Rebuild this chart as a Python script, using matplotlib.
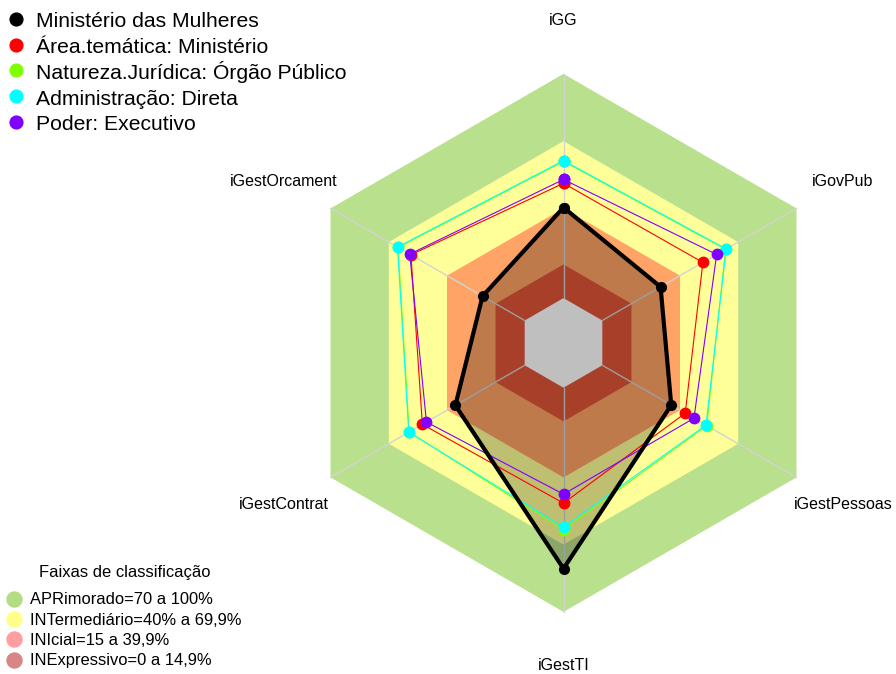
import numpy as np
import matplotlib
matplotlib.use('Agg')
import matplotlib.pyplot as plt
from matplotlib.lines import Line2D

plt.rcParams['font.family'] = ['Liberation Sans', 'DejaVu Sans']

# eixos (sentido horario a partir do topo)
eixos = ['iGG', 'iGovPub', 'iGestPessoas', 'iGestTI', 'iGestContrat', 'iGestOrcament']

# valores (%)
ministerio = [40.4, 30.0, 35.5, 80.7, 35.7, 21.7]
area_tematica = [51.2, 51.8, 42.7, 51.5, 52.7, 58.6]
natureza = [61.0, 63.5, 53.8, 63.4, 59.5, 65.2]
administracao = [61.3, 63.8, 53.4, 62.2, 59.7, 65.5]
poder = [52.9, 58.9, 47.2, 47.5, 50.6, 59.2]

series = ['Ministério das Mulheres', 'Área.temática: Ministério',
          'Natureza.Jurídica: Órgão Público', 'Administração: Direta',
          'Poder: Executivo']
cores = ['black', '#FF0000', '#80FF00', '#00FFFF', '#8000FF']

# faixas de classificacao (0 = buraco central branco)
faixas = [100, 70, 40, 15, 0]
cores_faixas = ['#B9E08D', '#FFFF99', '#FFA366', '#E05538', 'white']
faixas_legenda = ['APRimorado=70 a 100%', 'INTermediário=40% a 69,9%',
                  'INIcial=15 a 39,9%', 'INExpressivo=0 a 14,9%']
cores_legenda = ['#B3DD85', '#FFFF8A', '#FF9E9E', '#D98585']

seg = 5
ang = np.deg2rad(90 - 60 * np.arange(len(eixos)))


def raio(v):
    # como no fmsb: buraco central de 1/(seg+1)
    return 1 / (seg + 1) + seg / (seg + 1) * np.asarray(v) / 100


def xy(v):
    r = raio(v)
    return r * np.cos(ang), r * np.sin(ang)


W, H = 896, 674
fig = plt.figure(figsize=(W / 100, H / 100), dpi=100)
ax = fig.add_axes([0, 0, 1, 1])
esc = 269.0
cx, cy = 563.5, H - 342.9
ax.set_xlim(-cx / esc, (W - cx) / esc)
ax.set_ylim(-cy / esc, (H - cy) / esc)
ax.axis('off')

for f, c in zip(faixas, cores_faixas):
    x, y = xy([f] * len(eixos))
    ax.fill(x, y, color=c, lw=0, zorder=1)

# raios (eixos)
for a in ang:
    ax.plot([raio(0) * np.cos(a), np.cos(a)], [raio(0) * np.sin(a), np.sin(a)],
            color='#D3D3D3', lw=1, zorder=2)

dados = [ministerio, area_tematica, natureza, administracao, poder]
for i, (d, c) in enumerate(zip(dados, cores)):
    x, y = xy(d)
    x = np.append(x, x[0])
    y = np.append(y, y[0])
    if i == 0:
        ax.fill(x, y, color='black', alpha=0.25, lw=0, zorder=3)
        ax.plot(x, y, color=c, lw=3, marker='o', ms=7, zorder=10)
    else:
        ax.plot(x, y, color=c, lw=0.8, marker='o', ms=7.5, zorder=4 + i)

for a, nome in zip(ang, eixos):
    ax.text(1.2 * np.cos(a), 1.2 * np.sin(a), nome, ha='center', va='center',
            fontsize=11.5)


# legendas desenhadas a mao (posicoes em pixel a partir do topo)
def fx(px):
    return px / W


def fy(py):
    return 1 - py / H


for k, (nome, c) in enumerate(zip(series, cores)):
    y0 = 18.7 + 25.8 * k
    fig.add_artist(Line2D([fx(16.3)], [fy(y0)], transform=fig.transFigure,
                          ls='', marker='o', ms=9.2, color=c))
    fig.text(fx(36), fy(y0 + 8.6), nome, fontsize=15.2, va='baseline')

fig.text(fx(125), fy(577.5), 'Faixas de classificação', ha='center',
         va='baseline', fontsize=11.9)
for k, (nome, c) in enumerate(zip(faixas_legenda, cores_legenda)):
    y0 = 598.8 + 20.33 * k
    fig.add_artist(Line2D([fx(14)], [fy(y0)], transform=fig.transFigure,
                          ls='', marker='o', ms=10.8, color=c))
    fig.text(fx(30), fy(y0 + 5.5), nome, fontsize=11.9, va='baseline')

fig.savefig('out.png', dpi=100)
